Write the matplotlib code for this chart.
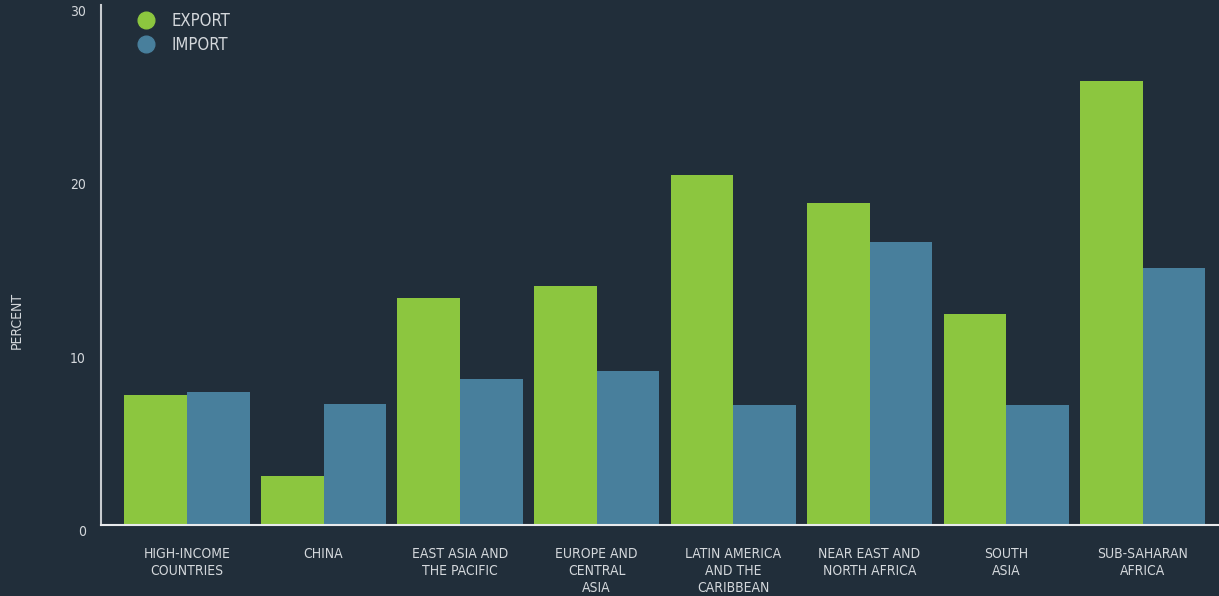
import matplotlib.pyplot as plt
import numpy as np
from matplotlib.lines import Line2D

regions = ["HIGH-INCOME\nCOUNTRIES", "CHINA", "EAST ASIA AND\nTHE PACIFIC",
           "EUROPE AND\nCENTRAL\nASIA", "LATIN AMERICA\nAND THE\nCARIBBEAN",
           "NEAR EAST AND\nNORTH AFRICA", "SOUTH\nASIA", "SUB-SAHARAN\nAFRICA"]
export = [7.5, 2.8, 13.1, 13.8, 20.2, 18.6, 12.2, 25.6]
imports = [7.7, 7.0, 8.4, 8.9, 6.9, 16.3, 6.9, 14.8]
yticks = [0, 10, 20, 30]

BG = "#212e3a"
GREEN = "#8cc63f"
BLUE = "#487f9c"
TXT = "#d4d8dc"

plt.rcParams['font.family'] = ['DejaVu Sans']
plt.rcParams['font.stretch'] = 'condensed'

fig = plt.figure(figsize=(12.19, 5.96), dpi=100, facecolor=BG)
ax = fig.add_axes([101 / 1219, 71 / 596, 1118 / 1219, 520 / 596], facecolor=BG)

x = np.arange(len(regions))
w = 0.458
ax.bar(x - w / 2, export, w, color=GREEN)
ax.bar(x + w / 2, imports, w, color=BLUE)

ax.set_xlim(-0.63, 7.56)
ax.set_ylim(0, 30)
ax.set_yticks(yticks)
ax.set_xticks(x)
ax.set_xticklabels(regions, fontsize=10, color=TXT, va="top", linespacing=1.3)
ax.tick_params(axis="x", length=0, pad=15.5)
ax.tick_params(axis="y", length=0, pad=11, labelsize=10, labelcolor=TXT)
for lbl in ax.get_yticklabels():
    lbl.set_va("top")

for s in ["top", "right"]:
    ax.spines[s].set_visible(False)
ax.spines["left"].set_color("#c8ccd0")
ax.spines["bottom"].set_color("#e8eaec")
ax.spines["left"].set_linewidth(1.5)
ax.spines["bottom"].set_linewidth(1.5)

fig.text(17 / 1219, 1 - 320 / 596, "PERCENT", rotation=90, color=TXT,
         fontsize=10, ha="center", va="center")

handles = [Line2D([], [], marker="o", ls="", color=GREEN, markersize=12),
           Line2D([], [], marker="o", ls="", color=BLUE, markersize=12)]
leg = ax.legend(handles, ["EXPORT", "IMPORT"], loc="upper left",
                bbox_to_anchor=(0.012, 1.015), frameon=False, fontsize=12,
                labelcolor=TXT, handletextpad=0.5, labelspacing=0.35)

fig.savefig("out.png", facecolor=BG)
